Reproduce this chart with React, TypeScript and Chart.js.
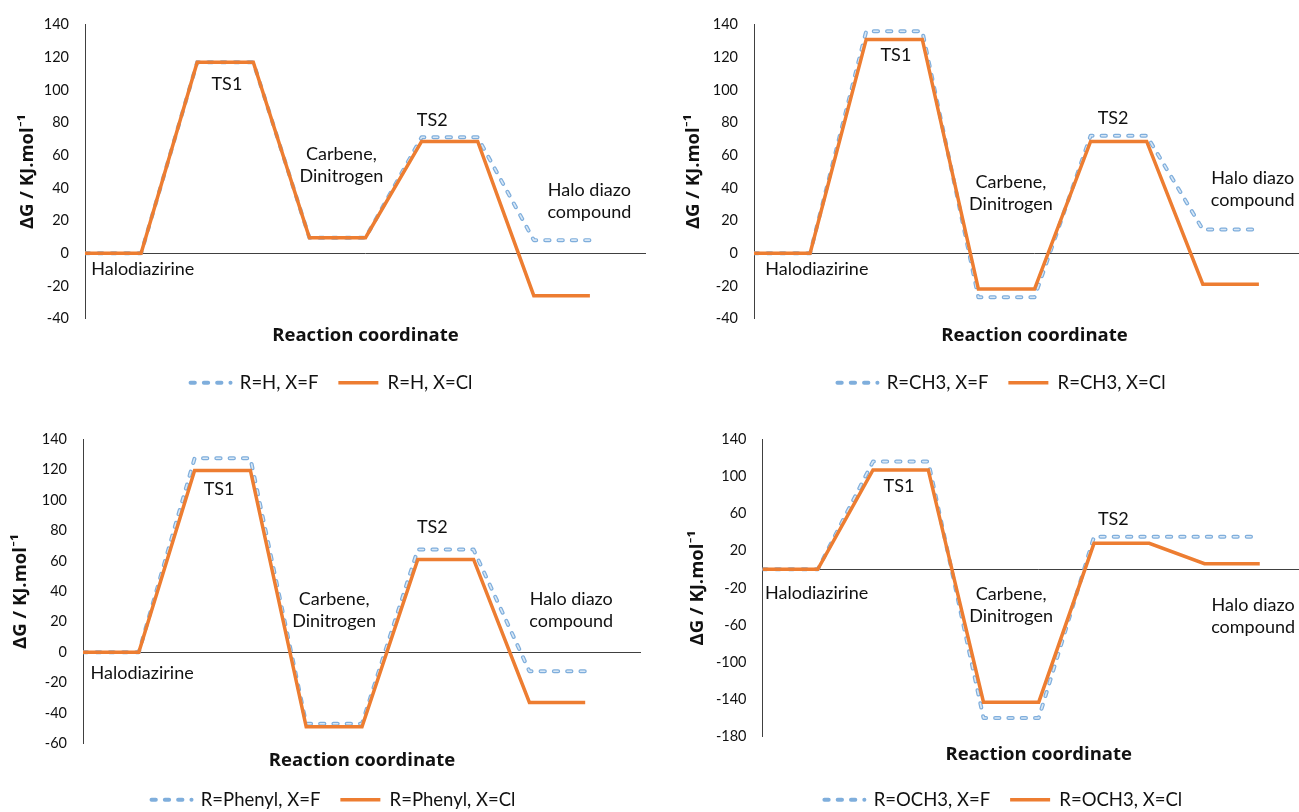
import React, { useEffect, useRef } from "react";
import { Chart, registerables } from "chart.js";

Chart.register(...registerables);

// ---------- data ----------
const stageIndex = [0, 1, 2, 3, 4, 5, 6, 7, 8, 9];

const stageNames: string[][] = [
  ["Halodiazirine"],
  ["TS1"],
  ["Carbene,", "Dinitrogen"],
  ["TS2"],
  ["Halo diazo", "compound"],
];

const hNames = ["R=H, X=F", "R=H, X=Cl"];
const hF = [0, 0, 117, 117, 9.5, 9.5, 71, 71, 8, 8];
const hCl = [0, 0, 117, 117, 9.5, 9.5, 68.5, 68.5, -26, -26];

const ch3Names = ["R=CH3, X=F", "R=CH3, X=Cl"];
const ch3F = [0, 0, 136, 136, -27, -27, 72, 72, 14.5, 14.5];
const ch3Cl = [0, 0, 131, 131, -22, -22, 68.5, 68.5, -19, -19];

const phenylNames = ["R=Phenyl, X=F", "R=Phenyl, X=Cl"];
const phenylF = [0, 0, 127.5, 127.5, -47, -47, 67.5, 67.5, -12.5, -12.5];
const phenylCl = [0, 0, 119.5, 119.5, -49, -49, 61, 61, -33, -33];

const och3Names = ["R=OCH3, X=F", "R=OCH3, X=Cl"];
const och3F = [0, 0, 116, 116, -160, -160, 35, 35, 35, 35];
const och3Cl = [0, 0, 107, 107, -143, -143, 28, 28, 6, 6];

// y-axis ranges: [min, max, step]
const hRange = [-40, 140, 20];
const ch3Range = [-40, 140, 20];
const phenylRange = [-60, 140, 20];
const och3Range = [-180, 140, 40];

// stage label anchors (data coords, same order as stageNames)
const hLabelAt = [[1.03, -9.9], [2.53, 103.4], [4.57, 60.6], [6.19, 81.6], [8.99, 38.8]];
const ch3LabelAt = [[1.12, -9.9], [2.53, 121.3], [4.58, 43.8], [6.4, 82.7], [8.89, 45.9]];
const phenylLabelAt = [[1.06, -14.1], [2.44, 107], [4.5, 34.6], [6.26, 81.9], [8.75, 34.6]];
const och3LabelAt = [[0.98, -25.9], [2.47, 89.3], [4.5, -26.7], [6.35, 53.6], [8.88, -38.1]];

// ---------- styles ----------
const ORANGE = "#ED7D31";
const BLUE_OUTER = "#7FAEDC";
const BLUE_INNER = "#D9E8F6";
const AXIS = "#404040";
const TEXT = "#111111";
const FONT = "Lato, 'Open Sans', sans-serif";
const TITLE_FONT = "'Open Sans', Lato, sans-serif";

type Panel = {
  key: string;
  left: number;
  top: number;
  width: number;
  height: number;
  padLeft: number;
  padRight: number;
  padTop: number;
  yWidth: number;
  yTitlePad: number;
  xHeight: number;
  xTitlePad: number;
  names: string[];
  fData: number[];
  clData: number[];
  range: number[];
  labelAt: number[][];
};

const panels: Panel[] = [
  { key: "h", left: 0, top: 0, width: 650, height: 402, padLeft: 17, padRight: 4, padTop: 22, yWidth: 68, yTitlePad: -0.3, xHeight: 35, xTitlePad: 6.9, names: hNames, fData: hF, clData: hCl, range: hRange, labelAt: hLabelAt },
  { key: "ch3", left: 650, top: 0, width: 665, height: 402, padLeft: 38, padRight: 0, padTop: 22, yWidth: 66, yTitlePad: -5.1, xHeight: 35, xTitlePad: 6.9, names: ch3Names, fData: ch3F, clData: ch3Cl, range: ch3Range, labelAt: ch3LabelAt },
  { key: "ph", left: 0, top: 410, width: 650, height: 409, padLeft: 26, padRight: 9, padTop: 29.3, yWidth: 57, yTitlePad: -16.1, xHeight: 27, xTitlePad: -1.1, names: phenylNames, fData: phenylF, clData: phenylCl, range: phenylRange, labelAt: phenylLabelAt },
  { key: "och3", left: 650, top: 410, width: 665, height: 409, padLeft: 41.5, padRight: 0, padTop: 29.3, yWidth: 71, yTitlePad: -4.6, xHeight: 34, xTitlePad: 4.7, names: och3Names, fData: och3F, clData: och3Cl, range: och3Range, labelAt: och3LabelAt },
];

function EnergyPanel({ p }: { p: Panel }) {
  const ref = useRef<HTMLCanvasElement>(null);

  useEffect(() => {
    const canvas = ref.current;
    if (!canvas) return;
    const toPts = (vals: number[]) => vals.map((v, i) => ({ x: stageIndex[i], y: v }));

    const decor = {
      id: "decor",
      beforeDatasetsDraw(chart: any) {
        const { ctx, chartArea, scales } = chart;
        const y0 = Math.round(scales.y.getPixelForValue(0)) + 0.5;
        ctx.save();
        ctx.strokeStyle = AXIS;
        ctx.lineWidth = 1;
        ctx.beginPath();
        ctx.moveTo(chartArea.left, y0);
        ctx.lineTo(chartArea.right, y0);
        ctx.stroke();
        ctx.restore();
      },
      afterDatasetsDraw(chart: any) {
        const { ctx, scales } = chart;
        ctx.save();
        ctx.fillStyle = TEXT;
        ctx.font = `18px ${FONT}`;
        ctx.textAlign = "center";
        ctx.textBaseline = "middle";
        stageNames.forEach((lines, i) => {
          const [dx, dy] = p.labelAt[i];
          const px = scales.x.getPixelForValue(dx);
          const py = scales.y.getPixelForValue(dy);
          lines.forEach((t, j) => ctx.fillText(t, px, py + j * 22));
        });
        ctx.restore();
      },
    };

    const chart = new Chart(canvas, {
      type: "line",
      data: {
        datasets: [
          {
            label: p.names[0],
            data: toPts(p.fData),
            borderColor: BLUE_OUTER,
            borderWidth: 4,
            borderDash: [4.3, 9],
            borderCapStyle: "round",
            borderJoinStyle: "round",
            pointRadius: 0,
            tension: 0,
            fill: false,
            order: 2,
          },
          {
            label: "_inner",
            data: toPts(p.fData),
            borderColor: BLUE_INNER,
            borderWidth: 1.6,
            borderDash: [4.3, 9],
            borderCapStyle: "round",
            borderJoinStyle: "round",
            pointRadius: 0,
            tension: 0,
            fill: false,
            order: 1,
          },
          {
            label: p.names[1],
            data: toPts(p.clData),
            borderColor: ORANGE,
            borderWidth: 3.5,
            borderJoinStyle: "miter",
            pointRadius: 0,
            tension: 0,
            fill: false,
            order: 0,
          },
        ],
      },
      options: {
        responsive: false,
        animation: false,
        layout: { padding: { left: p.padLeft, right: p.padRight, top: p.padTop, bottom: 0 } },
        plugins: {
          tooltip: { enabled: false },
          legend: {
            position: "bottom",
            labels: {
              usePointStyle: true,
              pointStyle: "line",
              pointStyleWidth: 40,
              padding: 20,
              color: TEXT,
              font: { family: FONT, size: 18.5 },
              generateLabels: (c: any) => {
                const items = (Chart.defaults.plugins.legend.labels as any).generateLabels(c);
                return items.map((it: any) => {
                  const ds: any = c.data.datasets[it.datasetIndex];
                  return {
                    ...it,
                    lineDash: ds.borderDash || [],
                    lineCap: ds.borderCapStyle || "butt",
                    lineWidth: ds.borderWidth,
                    strokeStyle: ds.borderColor,
                    pointStyle: "line",
                  };
                });
              },
              filter: (it: any) => it.datasetIndex !== 1,
              sort: (a: any, b: any) => a.datasetIndex - b.datasetIndex,
            },
          },
        },
        scales: {
          x: {
            type: "linear",
            min: 0,
            max: 10,
            ticks: { display: false },
            grid: { display: false, drawTicks: false },
            border: { display: false },
            title: {
              display: true,
              text: "Reaction coordinate",
              color: TEXT,
              font: { family: TITLE_FONT, size: 18.5, weight: "bold", lineHeight: 1.2 },
              padding: { top: 0, bottom: p.xTitlePad },
            },
            afterFit: (s: any) => {
              s.height = p.xHeight;
            },
          },
          y: {
            min: p.range[0],
            max: p.range[1],
            ticks: {
              stepSize: p.range[2],
              padding: 16,
              color: TEXT,
              font: { family: FONT, size: 14.5 },
            },
            grid: { display: false, drawTicks: false },
            border: { display: true, color: AXIS, width: 1 },
            title: {
              display: true,
              text: "ΔG / KJ.mol⁻¹",
              color: TEXT,
              font: { family: TITLE_FONT, size: 18.5, weight: "bold", lineHeight: 1.2 },
              padding: { top: p.yTitlePad, bottom: 0 },
            },
            afterFit: (s: any) => {
              s.width = p.yWidth;
            },
          },
        },
      } as any,
      plugins: [decor],
    });
    return () => chart.destroy();
  }, [p]);

  return (
    <canvas
      ref={ref}
      width={p.width}
      height={p.height}
      style={{ position: "absolute", left: p.left, top: p.top, width: p.width, height: p.height }}
    />
  );
}

export default function App() {
  return (
    <div
      style={{
        position: "absolute",
        left: 0,
        top: 0,
        width: 1299,
        height: 812,
        overflow: "hidden",
        background: "#ffffff",
      }}
    >
      {panels.map((p) => (
        <EnergyPanel key={p.key} p={p} />
      ))}
    </div>
  );
}
